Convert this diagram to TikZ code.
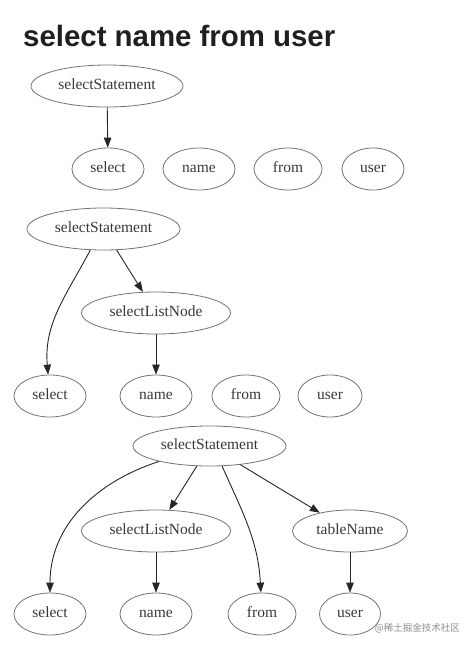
\documentclass[tikz,border=0pt]{standalone}
\usepackage{fontspec}
\setmainfont{Liberation Serif}
\newfontfamily\titlefont{Liberation Sans}
\newfontfamily\cjk{Noto Sans CJK SC}
\usetikzlibrary{shapes.geometric,arrows.meta}
\begin{document}
\begin{tikzpicture}[
    x=1pt, y=-1pt,
    tnode/.style={ellipse, draw=black!55, line width=0.8pt, inner sep=0pt,
                  minimum height=42pt, text=black!78, text height=10.5pt, text depth=3pt,
                  font=\fontsize{15.5}{17}\selectfont},
    leaf/.style={tnode, minimum width=70pt},
    arr/.style={-{Triangle[length=10pt,width=7.5pt]}, line width=0.9pt, black!85},
]
\useasboundingbox (0,0) rectangle (475,649);
\node[anchor=base west, font=\titlefont\bfseries\fontsize{29.4}{32}\selectfont, text=black!88, inner sep=0pt]
  (title) at (23,46) {select name from user};

% first tree: only the statement node
\node[tnode, minimum width=152pt] (ssA) at (107,86) {selectStatement};
\node[leaf, minimum width=72pt] (selA) at (108,169) {select};
\node[leaf, minimum width=72pt] (nameA) at (199,169) {name};
\node[leaf, minimum width=68pt] (fromA) at (288,169) {from};
\node[leaf, minimum width=62pt] (userA) at (373,169) {user};
\draw[arr] (ssA) -- (selA);

% second tree: select list added
\node[tnode, minimum width=153pt] (ssB) at (103.5,229) {selectStatement};
\node[tnode, minimum width=149pt] (slnB) at (156,313) {selectListNode};
\node[leaf, minimum width=72pt] (selB) at (50,396) {select};
\node[leaf, minimum width=72pt] (nameB) at (156,396) {name};
\node[leaf, minimum width=68pt] (fromB) at (246,396) {from};
\node[leaf, minimum width=64pt] (userB) at (330,396) {user};
\draw[arr] (ssB.-122) to[out=-118, in=95] (selB);
\draw[arr] (ssB) -- (slnB);
\draw[arr] (slnB) -- (nameB);

% third tree: full statement
\node[tnode, minimum width=153pt, minimum height=40pt] (ssC) at (209.5,446) {selectStatement};
\node[tnode, minimum width=149pt] (slnC) at (156,531) {selectListNode};
\node[tnode, minimum width=115pt] (tnC) at (350,531) {tableName};
\node[leaf, minimum width=72pt] (selC) at (50,614) {select};
\node[leaf, minimum width=72pt] (nameC) at (156,614) {name};
\node[leaf, minimum width=68pt] (fromC) at (262,614) {from};
\node[leaf, minimum width=61pt] (userC) at (350,614) {user};
\draw[arr] (ssC.-163) to[out=-162, in=90] (selC);
\draw[arr] (ssC) -- (slnC);
\draw[arr] (ssC.-58) to[out=-66, in=93] (fromC);
\draw[arr] (ssC) -- (tnC);
\draw[arr] (slnC) -- (nameC);
\draw[arr] (tnC) -- (userC);

\node[anchor=east, font=\cjk\fontsize{9.5}{11}\selectfont, text=black!45, inner sep=0pt]
  (mark) at (460,628) {@稀土掘金技术社区};
\end{tikzpicture}
\end{document}
